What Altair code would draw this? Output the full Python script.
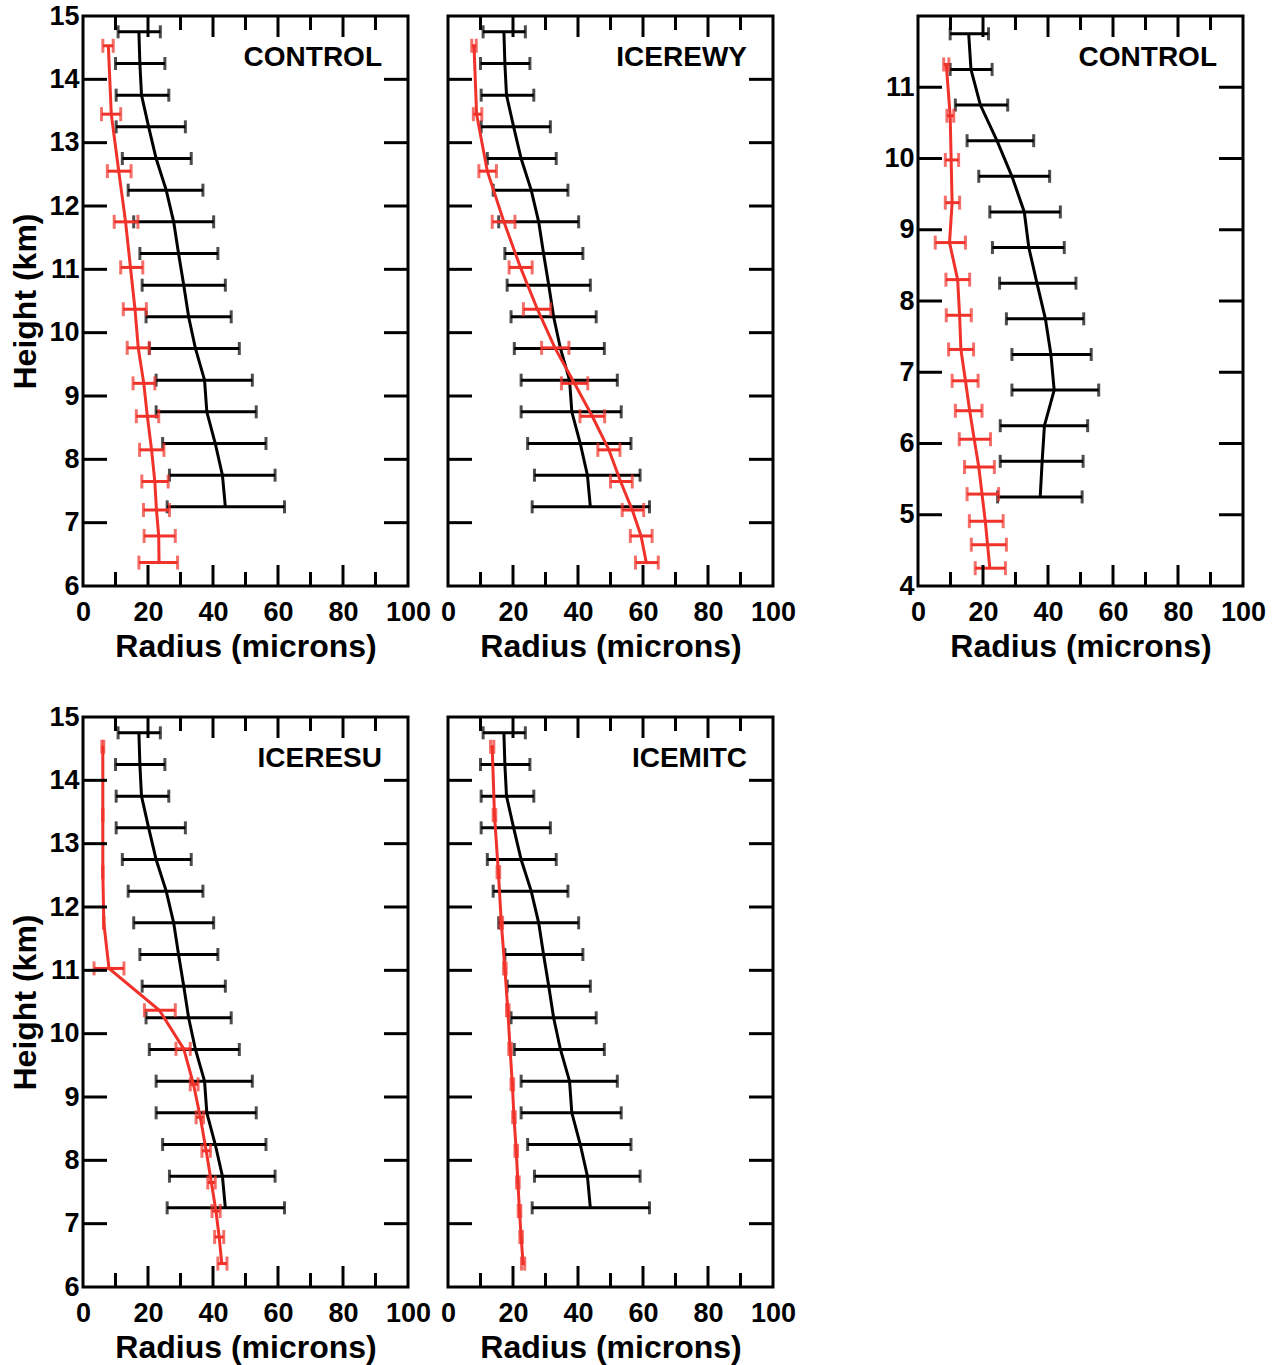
import altair as alt
import pandas as pd

# ---------------- data ----------------
# Observations (black) used in CONTROL / ICEREWY / ICERESU / ICEMITC panels
obs_height = [14.75, 14.25, 13.75, 13.25, 12.75, 12.25, 11.75, 11.25,
              10.75, 10.25, 9.75, 9.25, 8.75, 8.25, 7.75, 7.25]
obs_mean = [17.2, 17.5, 18.0, 20.2, 22.5, 25.6, 27.9, 29.4,
            31.0, 32.5, 34.6, 37.4, 38.1, 40.7, 42.9, 43.8]
obs_lo = [10.8, 10.0, 10.2, 10.2, 12.1, 13.9, 15.6, 17.5,
          18.2, 19.4, 20.4, 22.5, 22.5, 24.5, 26.6, 25.9]
obs_hi = [23.8, 25.2, 26.4, 31.5, 33.3, 36.9, 40.2, 41.5,
          43.8, 45.6, 48.1, 52.1, 53.3, 56.3, 59.1, 62.0]

# Model (red) heights for the four panels with the same observations
mod_height = [14.53, 13.45, 12.55, 11.75, 11.03, 10.37, 9.76,
              9.20, 8.68, 8.15, 7.65, 7.20, 6.79, 6.37]

control_mean = [7.8, 8.7, 11.0, 13.1, 14.6, 16.0, 17.0, 18.7, 19.8, 21.1, 22.1, 22.6, 23.3, 23.4]
control_lo = [6.1, 5.7, 7.5, 9.6, 11.6, 12.4, 13.6, 15.4, 16.4, 17.4, 18.1, 18.6, 18.8, 17.2]
control_hi = [9.3, 11.6, 14.8, 16.9, 18.4, 19.5, 20.4, 22.1, 23.3, 24.9, 26.2, 26.6, 28.4, 29.1]

icerewy_mean = [8.0, 8.8, 12.1, 17.2, 22.3, 27.5, 32.9, 38.9, 44.4, 49.5, 53.1, 56.7, 59.4, 61.0]
icerewy_lo = [7.3, 7.8, 9.5, 13.6, 18.8, 23.2, 28.8, 34.9, 40.6, 46.1, 50.0, 53.6, 56.1, 57.7]
icerewy_hi = [8.7, 10.4, 14.9, 20.6, 25.9, 31.6, 37.2, 43.0, 48.2, 52.9, 56.7, 60.2, 62.8, 64.7]

iceresu_mean = [6.1, 6.1, 6.1, 6.4, 8.0, 23.5, 31.0, 34.0, 36.1, 37.9, 39.5, 40.9, 41.9, 42.7]
iceresu_lo = [5.8, 6.1, 6.1, 6.4, 3.4, 18.9, 28.6, 33.0, 34.8, 36.6, 38.4, 39.7, 40.5, 41.5]
iceresu_hi = [6.4, 6.1, 6.1, 6.4, 12.6, 28.4, 33.0, 35.4, 37.1, 39.2, 40.7, 42.2, 43.3, 44.3]

icemitc_mean = [13.6, 14.3, 15.5, 16.4, 17.5, 18.4, 19.1, 19.8, 20.3, 21.0, 21.5, 22.0, 22.5, 23.1]
icemitc_lo = [13.1, 13.9, 15.1, 16.0, 17.1, 18.0, 18.7, 19.4, 19.9, 20.6, 21.1, 21.6, 22.1, 22.6]
icemitc_hi = [14.1, 14.7, 15.9, 16.8, 17.9, 18.8, 19.5, 20.2, 20.7, 21.4, 21.9, 22.4, 22.9, 23.6]

# Third panel (second CONTROL, lower heights)
obs2_height = [11.75, 11.25, 10.75, 10.25, 9.75, 9.25, 8.75,
               8.25, 7.75, 7.25, 6.75, 6.25, 5.75, 5.25]
obs2_mean = [15.6, 16.3, 19.2, 24.3, 28.9, 32.7, 34.1, 36.6, 39.2, 40.9, 41.9, 38.9, 38.2, 37.6]
obs2_lo = [9.9, 9.9, 11.5, 15.1, 18.7, 22.1, 22.9, 25.1, 27.2, 28.9, 28.9, 25.3, 25.3, 24.5]
obs2_hi = [21.7, 22.8, 27.6, 35.6, 40.5, 43.8, 45.0, 48.6, 51.0, 53.3, 55.6, 52.2, 50.8, 50.5]

mod2_height = [11.32, 10.60, 9.98, 9.38, 8.82, 8.30, 7.80, 7.32,
               6.88, 6.46, 6.06, 5.67, 5.29, 4.91, 4.58, 4.25]
control2_mean = [8.7, 9.9, 10.2, 10.5, 9.7, 12.2, 12.8, 13.2, 14.6, 15.9, 17.3, 18.7, 19.7, 20.7, 21.4, 22.1]
control2_lo = [7.9, 8.9, 8.4, 8.4, 5.3, 8.6, 8.7, 9.4, 10.5, 11.5, 12.7, 14.3, 15.1, 15.8, 16.4, 17.6]
control2_hi = [9.5, 11.0, 12.5, 12.8, 14.6, 15.9, 16.4, 17.1, 18.5, 19.7, 22.3, 23.5, 24.8, 26.2, 27.2, 26.9]

panel_labels = ["CONTROL", "ICEREWY", "CONTROL", "ICERESU", "ICEMITC"]

x_label_values = [0, 20, 40, 60, 80, 100]
x_major_ticks = [20, 40, 60, 80]
x_minor_ticks = [10, 30, 50, 70, 90]

RED = "#f0322a"
FONT = "Liberation Sans"
W, H = 325, 570


def frame(h, m, lo, hi):
    return pd.DataFrame({"h": h, "mean": m, "lo": lo, "hi": hi})


def panel(obs, mod, label, ydom, ylabel_vals, yticks, show_ylabels, ytitle):
    xs = alt.Scale(domain=[0, 100], nice=False, zero=False)
    ys = alt.Scale(domain=ydom, nice=False, zero=False)
    xaxis = alt.Axis(values=x_label_values, ticks=False, domain=False, grid=False,
                     labelFlush=False, labelOverlap=False, labelPadding=13,
                     title="Radius (microns)", titlePadding=6)
    if show_ylabels:
        yargs = dict(values=ylabel_vals, ticks=False, domain=False, grid=False,
                     labelFlush=False, labelOverlap=False, labelPadding=4)
        if ytitle:
            yargs["title"] = ytitle
            yargs["titlePadding"] = 6
        else:
            yargs["title"] = None
        yaxis = alt.Axis(**yargs)
    else:
        yaxis = None

    def X(f):
        return alt.X(f, scale=xs, axis=xaxis)

    def Y(f):
        return alt.Y(f, scale=ys, axis=yaxis)

    def layer_series(df, color, cap, sw):
        base = alt.Chart(df)
        bars = base.mark_rule(color=color, strokeWidth=sw).encode(
            x=X("lo:Q"), x2="hi:Q", y=Y("h:Q"))
        cap_lo = base.mark_tick(color=color, orient="vertical", size=cap, thickness=sw).encode(
            x=X("lo:Q"), y=Y("h:Q"))
        cap_hi = base.mark_tick(color=color, orient="vertical", size=cap, thickness=sw).encode(
            x=X("hi:Q"), y=Y("h:Q"))
        line = base.mark_line(color=color, strokeWidth=3).encode(
            x=X("mean:Q"), y=Y("h:Q"), order=alt.Order("h:Q"))
        return [bars, cap_lo, cap_hi, line]

    layers = layer_series(obs, "black", 13, 3) + layer_series(mod, RED, 14, 3)

    xmaj = pd.DataFrame({"t": x_major_ticks})
    xmin = pd.DataFrame({"t": x_minor_ticks})
    ytk = pd.DataFrame({"t": yticks})
    tk = dict(color="black", strokeWidth=3)
    layers += [
        alt.Chart(xmaj).mark_rule(**tk).encode(x=X("t:Q"), y=alt.value(0), y2=alt.value(21)),
        alt.Chart(xmaj).mark_rule(**tk).encode(x=X("t:Q"), y=alt.value(H), y2=alt.value(H - 21)),
        alt.Chart(xmin).mark_rule(**tk).encode(x=X("t:Q"), y=alt.value(0), y2=alt.value(14)),
        alt.Chart(xmin).mark_rule(**tk).encode(x=X("t:Q"), y=alt.value(H), y2=alt.value(H - 14)),
        alt.Chart(ytk).mark_rule(**tk).encode(y=Y("t:Q"), x=alt.value(0), x2=alt.value(24)),
        alt.Chart(ytk).mark_rule(**tk).encode(y=Y("t:Q"), x=alt.value(W), x2=alt.value(W - 24)),
        alt.Chart(pd.DataFrame({"label": [label]})).mark_text(
            align="right", baseline="alphabetic", font=FONT, fontSize=28,
            fontWeight="bold", color="black").encode(
            x=alt.value(W - 26), y=alt.value(50), text="label:N"),
    ]
    return alt.layer(*layers).properties(width=W, height=H)


p1 = panel(frame(obs_height, obs_mean, obs_lo, obs_hi),
           frame(mod_height, control_mean, control_lo, control_hi),
           panel_labels[0], [6, 15], list(range(6, 16)), list(range(7, 15)), True, "Height (km)")
p2 = panel(frame(obs_height, obs_mean, obs_lo, obs_hi),
           frame(mod_height, icerewy_mean, icerewy_lo, icerewy_hi),
           panel_labels[1], [6, 15], list(range(6, 16)), list(range(7, 15)), False, None)
p3 = panel(frame(obs2_height, obs2_mean, obs2_lo, obs2_hi),
           frame(mod2_height, control2_mean, control2_lo, control2_hi),
           panel_labels[2], [4, 12], list(range(4, 12)), list(range(5, 12)), True, None)
p4 = panel(frame(obs_height, obs_mean, obs_lo, obs_hi),
           frame(mod_height, iceresu_mean, iceresu_lo, iceresu_hi),
           panel_labels[3], [6, 15], list(range(6, 16)), list(range(7, 15)), True, "Height (km)")
p5 = panel(frame(obs_height, obs_mean, obs_lo, obs_hi),
           frame(mod_height, icemitc_mean, icemitc_lo, icemitc_hi),
           panel_labels[4], [6, 15], list(range(6, 16)), list(range(7, 15)), False, None)

top = alt.hconcat(alt.hconcat(p1, p2, spacing=5), p3, spacing=84)
bottom = alt.hconcat(p4, p5, spacing=5)

chart = alt.vconcat(top, bottom, spacing=37).properties(
    padding={"left": 8, "top": 0, "right": 5, "bottom": 5},
    background="white",
).configure_view(
    stroke="black", strokeWidth=3
).configure_axis(
    labelFont=FONT, labelFontSize=27, labelFontWeight="bold", labelColor="black",
    titleFont=FONT, titleFontSize=32, titleFontWeight="bold", titleColor="black",
)

chart.save("out.html", embed_options={"renderer": "svg", "actions": False})
